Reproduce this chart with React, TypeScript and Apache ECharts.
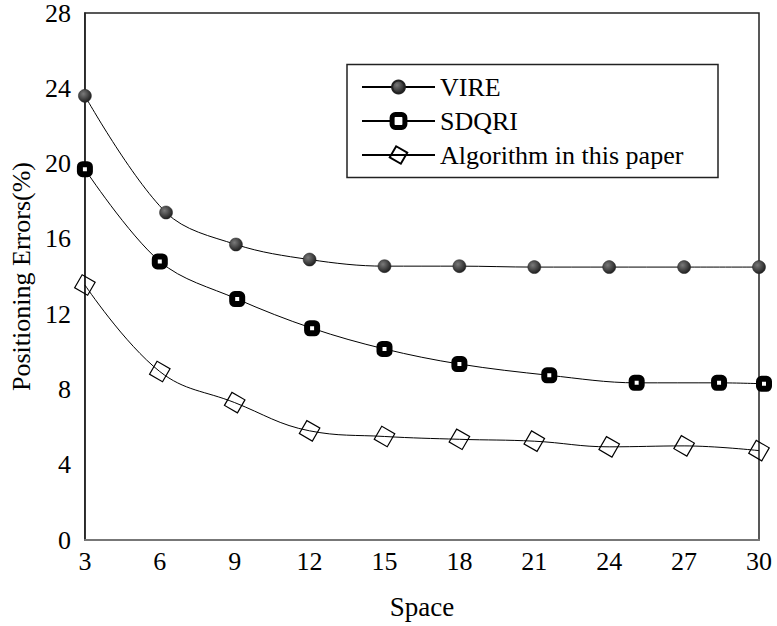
import React, { useEffect, useRef } from "react";
import * as echarts from "echarts";

const xTicks = [3, 6, 9, 12, 15, 18, 21, 24, 27, 30];
const vireX = [3, 6.25, 9.05, 12, 15, 18, 21, 24, 27, 30];
const vireY = [23.6, 17.4, 15.7, 14.9, 14.55, 14.55, 14.5, 14.5, 14.5, 14.5];
const sdqriX = [3, 6, 9.1, 12.1, 15, 18, 21.6, 25.1, 28.4, 30.2];
const sdqriY = [19.7, 14.8, 12.8, 11.25, 10.15, 9.35, 8.75, 8.35, 8.35, 8.3];
const algX = [3, 6, 9, 12, 15, 18, 21, 24, 27, 30];
const algY = [13.55, 8.95, 7.3, 5.8, 5.5, 5.35, 5.25, 4.95, 5.0, 4.75];
const seriesNames = ["VIRE", "SDQRI", "Algorithm in this paper"];

const FONT = "Liberation Serif";

const zip = (xs: number[], ys: number[]) => xs.map((x, i) => [x, ys[i]]);

export default function App() {
  const ref = useRef<HTMLDivElement>(null);
  useEffect(() => {
    const chart = echarts.init(ref.current!, null, { renderer: "svg" });
    const sphere = {
      type: "radial",
      x: 0.38,
      y: 0.35,
      r: 0.7,
      colorStops: [
        { offset: 0, color: "#7a7a7a" },
        { offset: 1, color: "#1a1a1a" },
      ],
    };
    chart.setOption({
      animation: false,
      backgroundColor: "#fff",
      textStyle: { fontFamily: FONT, color: "#000" },
      grid: {
        left: 84.5,
        right: 18,
        top: 13,
        bottom: 86,
        show: true,
        borderColor: "#222",
        borderWidth: 1.5,
      },
      legend: {
        orient: "vertical",
        left: 356,
        top: 69,
        itemWidth: 73,
        itemHeight: 16,
        itemGap: 8,
        data: [
          { name: seriesNames[0] },
          { name: seriesNames[1], itemStyle: { borderWidth: 5 } },
          { name: seriesNames[2] },
        ],
        textStyle: { fontFamily: FONT, fontSize: 26, color: "#000" },
      },
      graphic: [
        {
          type: "rect",
          shape: { x: 347, y: 64.5, width: 371, height: 113 },
          style: { fill: "none", stroke: "#222", lineWidth: 1.5 },
          z: 0,
        },
      ],
      xAxis: {
        type: "value",
        min: 3,
        max: 30,
        interval: 3,
        name: "Space",
        nameLocation: "middle",
        nameGap: 53,
        nameTextStyle: { fontFamily: FONT, fontSize: 27, color: "#000" },
        axisLine: { show: true, lineStyle: { color: "#777", width: 2 } },
        axisTick: { show: false },
        splitLine: { show: false },
        axisLabel: {
          fontFamily: FONT,
          fontSize: 26,
          color: "#000",
          margin: 8,
          formatter: (v: number) => (xTicks.includes(v) ? String(v) : ""),
        },
      },
      yAxis: {
        type: "value",
        min: 0,
        max: 28,
        interval: 4,
        name: "Positioning Errors(%)",
        nameLocation: "middle",
        nameGap: 47,
        nameTextStyle: { fontFamily: FONT, fontSize: 26, color: "#000" },
        axisLine: { show: true, lineStyle: { color: "#222", width: 1.5 } },
        axisTick: { show: false },
        splitLine: { show: false },
        axisLabel: { fontFamily: FONT, fontSize: 26, color: "#000", margin: 14 },
      },
      series: [
        {
          name: seriesNames[0],
          type: "line",
          data: zip(vireX, vireY),
          smooth: 0.35,
          clip: false,
          symbol: "circle",
          symbolSize: 13,
          lineStyle: { color: "#000", width: 1 },
          itemStyle: { color: sphere, borderColor: "#222", borderWidth: 0.5 },
          z: 3,
        },
        {
          name: seriesNames[1],
          type: "line",
          data: zip(sdqriX, sdqriY),
          smooth: 0.35,
          clip: false,
          symbol: "roundRect",
          symbolSize: 10,
          lineStyle: { color: "#000", width: 1 },
          itemStyle: { color: "#fff", borderColor: "#000", borderWidth: 6 },
          z: 3,
        },
        {
          name: seriesNames[2],
          type: "line",
          data: zip(algX, algY),
          smooth: 0.4,
          clip: false,
          symbol: "rect",
          symbolSize: 15,
          symbolRotate: -30,
          lineStyle: { color: "#000", width: 1 },
          itemStyle: { color: "rgba(255,255,255,0)", borderColor: "#000", borderWidth: 1.2 },
          z: 3,
        },
      ],
    });
    return () => chart.dispose();
  }, []);
  return <div ref={ref} style={{ width: 777, height: 626, position: "absolute", left: 0, top: 0 }} />;
}
